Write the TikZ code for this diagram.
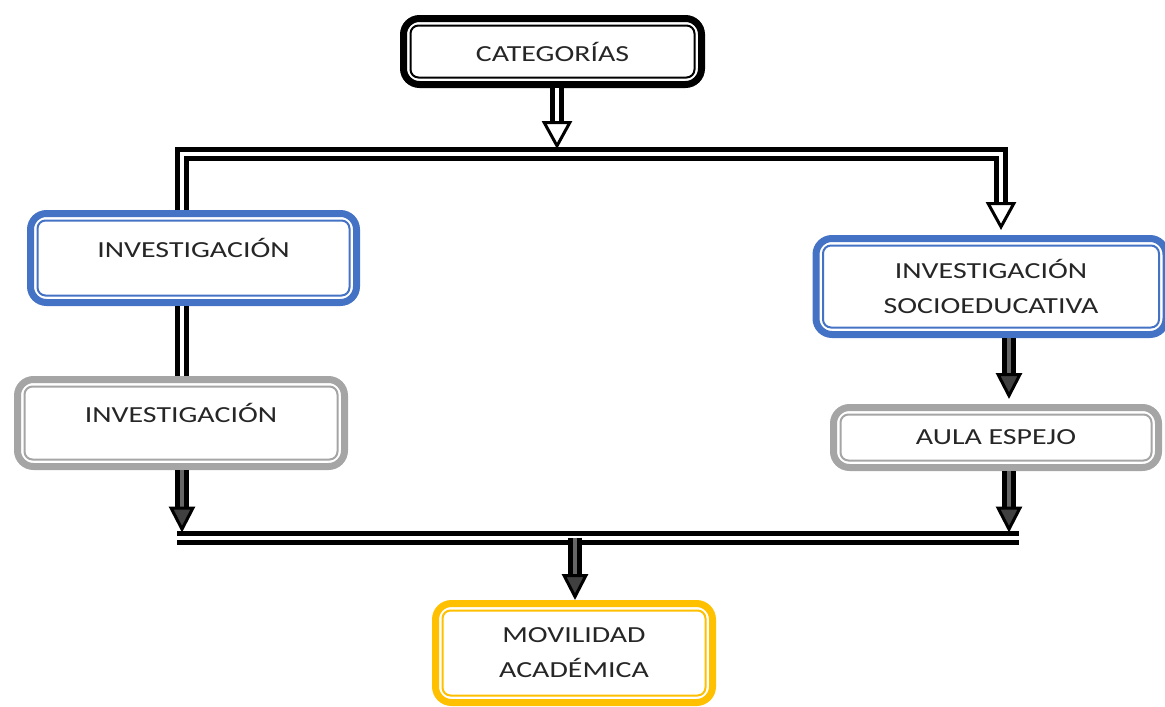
\documentclass[tikz,border=0pt]{standalone}
\usepackage{fontspec}
\setmainfont{Carlito}[FakeStretch=1.3]
\usetikzlibrary{arrows.meta}

\definecolor{boxblue}{HTML}{4472C4}
\definecolor{boxgray}{HTML}{A5A5A5}
\definecolor{boxyellow}{HTML}{FFC000}

\tikzset{
    box/.style={draw=#1, line width=7pt, rounded corners=16pt, fill=white,
        align=center, text=black!85, font=\fontsize{23}{35}\selectfont},
    innerline/.style={draw=#1, line width=2pt, rounded corners=8pt},
    dline/.style={draw=black, line width=5pt, double=white, double distance=4pt, line join=miter},
    darkline/.style={dline, double=black!60},
    arr/.style={-{Triangle[length=28pt, width=30pt, line width=3pt, fill=white]}, shorten >=5pt},
    darkarr/.style={-{Triangle[length=26pt, width=26pt, line width=3pt, fill=black!75]}, shorten >=5pt},
}

\begin{document}
\begin{tikzpicture}[x=1pt, y=-1pt]
   \useasboundingbox (0,0) rectangle (1165,707);

   % boxes
   \node[box=black, minimum width=298pt, minimum height=66pt] (cat) at (552.5,51.5) {CATEGORÍAS};
   \node[box=boxblue, minimum width=326pt, minimum height=89pt, text depth=20pt] (inv) at (193.5,258) {INVESTIGACIÓN};
   \node[box=boxgray, minimum width=327pt, minimum height=87pt, text depth=20pt] (invb) at (181,423) {INVESTIGACIÓN};
   \node[box=boxblue, minimum width=350pt, minimum height=96pt] (soc) at (991,286.5) {INVESTIGACIÓN\\SOCIOEDUCATIVA};
   \node[box=boxgray, minimum width=325pt, minimum height=60pt] (aula) at (996,437.5) {AULA ESPEJO};
   \node[box=boxyellow, minimum width=277pt, minimum height=99pt] (mov) at (574,653) {MOVILIDAD\\ACADÉMICA};

   \foreach \n/\c in {cat/black, inv/boxblue, invb/boxgray, soc/boxblue, aula/boxgray, mov/boxyellow}
       \draw[innerline=\c] ([shift={(10.5,10.5)}]\n.north west) rectangle ([shift={(-10.5,-10.5)}]\n.south east);

   % bus lines
   \coordinate (tl) at (182,154);
   \coordinate (tr) at (1001,154);
   \coordinate (bl) at (177,537.5);
   \coordinate (br) at (1019,537.5);
   \coordinate (catout) at (557,0);
   \coordinate (rx) at (1009,0);
   \coordinate (bm) at (575,537.5);

   \draw[dline, arr] (tl |- inv.north) -- (tl) -- (tr) -- (tr |- soc.north);
   \draw[dline, arr] (catout |- cat.south) -- (catout |- tl);
   \draw[dline] (tl |- inv.south) -- (tl |- invb.north);
   \draw[darkline, darkarr] (tl |- invb.south) -- (tl |- bl);
   \draw[darkline, darkarr] (rx |- soc.south) -- (rx |- aula.north);
   \draw[darkline, darkarr] (rx |- aula.south) -- (rx |- br);
   \draw[dline] (bl) -- (br);
   \draw[darkline, darkarr, shorten >=0pt] (bm) -- (bm |- mov.north);

\end{tikzpicture}
\end{document}
